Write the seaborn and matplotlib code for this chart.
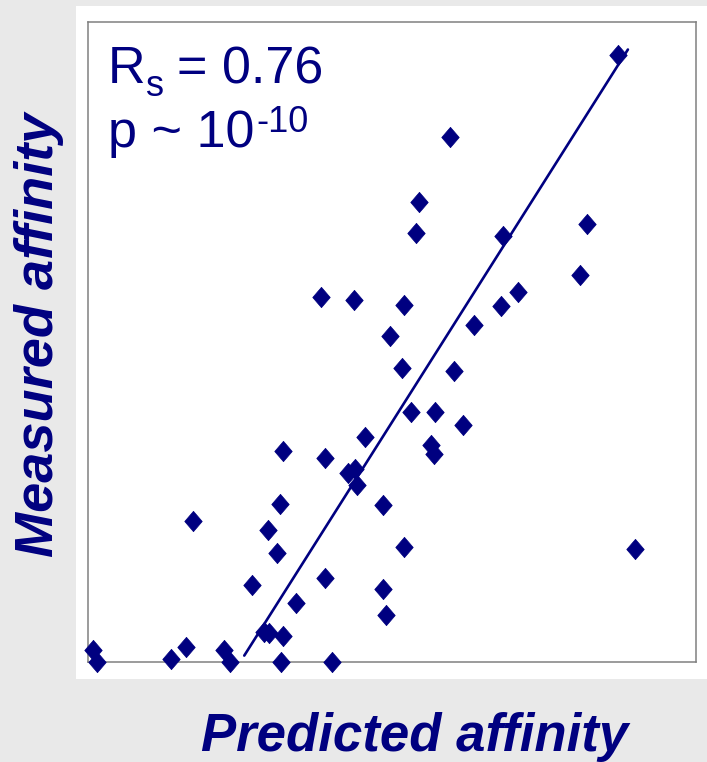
import numpy as np
import pandas as pd
import matplotlib
matplotlib.use("Agg")
import matplotlib.pyplot as plt
from matplotlib.patches import Rectangle
from matplotlib.path import Path
import seaborn as sns

# Predicted vs. measured binding affinity (arbitrary units)
predicted = [0.08, 0.15, 1.37, 1.61, 1.72, 2.23, 2.34, 2.70, 2.89, 2.98,
             2.96, 3.11, 3.15, 3.20, 3.20, 3.17, 3.42, 3.84, 3.89, 3.89,
             4.01, 4.28, 4.39, 4.43, 4.38, 4.56, 4.85, 4.86, 4.90, 4.97,
             5.20, 5.16, 5.20, 5.32, 5.39, 5.44, 5.64, 5.69, 5.70, 5.95,
             6.02, 6.17, 6.35, 6.79, 6.83, 7.07, 8.09, 8.21, 8.71, 8.99]
measured = [0.19, 0.00, 0.04, 0.24, 2.21, 0.19, 0.00, 1.20, 0.47, 0.45,
            2.07, 1.71, 2.47, 3.30, 0.40, 0.00, 0.92, 5.70, 3.18, 1.31,
            0.00, 2.95, 3.01, 2.77, 5.66, 3.52, 2.45, 1.14, 0.73, 5.10,
            1.79, 4.59, 5.58, 3.90, 6.71, 7.18, 3.39, 3.25, 3.90, 8.21,
            4.55, 3.71, 5.27, 5.56, 6.65, 5.78, 6.04, 6.84, 9.48, 1.77]

# Trend line end points
trend_x = [2.57, 8.88]
trend_y = [0.10, 9.57]

x_label = "Predicted affinity"
y_label = "Measured affinity"

navy = "#000080"

sns.set_theme(style="white")
plt.rcParams["font.family"] = ["Liberation Sans", "DejaVu Sans"]

W, H = 707, 762
fig = plt.figure(figsize=(W / 100, H / 100), dpi=100, facecolor="#e9e9e9")

# white panel behind the plot
fig.patches.append(Rectangle((76 / W, 1 - 679 / H), 1 - 76 / W, (679 - 6) / H,
                             transform=fig.transFigure, facecolor="white",
                             edgecolor="none", zorder=-5))

ax = fig.add_axes([88 / W, 1 - 662 / H, (696 - 88) / W, (662 - 22) / H])
ax.set_zorder(2)
ax.set_facecolor("white")

df = pd.DataFrame({"predicted": predicted, "measured": measured})
trend = pd.DataFrame({"x": trend_x, "y": trend_y})

diamond = Path([(0, 1), (0.86, 0), (0, -1), (-0.86, 0), (0, 1)],
               [Path.MOVETO, Path.LINETO, Path.LINETO, Path.LINETO, Path.CLOSEPOLY])

sns.lineplot(data=trend, x="x", y="y", ax=ax, color=navy, linewidth=1.9,
             zorder=2, sort=False)
sns.scatterplot(data=df, x="predicted", y="measured", ax=ax, marker=diamond,
                s=215, color=navy, edgecolor=navy, linewidth=0.5, zorder=3,
                clip_on=False)

ax.set_xlim(0, 10)
ax.set_ylim(0, 10)
ax.set_xticks([])
ax.set_yticks([])
ax.set_xlabel("")
ax.set_ylabel("")
for sp in ax.spines.values():
    sp.set_color("#808080")
    sp.set_linewidth(1.1)
    sp.set_visible(True)


def put(x, y, s, size, **kw):
    fig.text(x / W, 1 - y / H, s, fontsize=size, color=navy, ha="left",
             va="baseline", zorder=5, **kw)


# Spearman correlation and p-value annotation
put(108, 83.3, "R", 37.5)
put(146, 95.5, "s", 26)
put(177, 83.3, "= 0.76", 37.5)
put(108, 146.7, "p ~ 10", 37.5)
put(256, 131.5, "-10", 26)

fig.text(415 / W, 1 - 751 / H, x_label, fontsize=38, fontweight="bold",
         fontstyle="italic", color=navy, ha="center", va="baseline")
fig.text(53 / W, 1 - 335 / H, y_label, fontsize=39, fontweight="bold",
         fontstyle="italic", color=navy, ha="center", va="baseline",
         rotation=90, rotation_mode="anchor")

fig.savefig("out.png", dpi=100, facecolor=fig.get_facecolor())
